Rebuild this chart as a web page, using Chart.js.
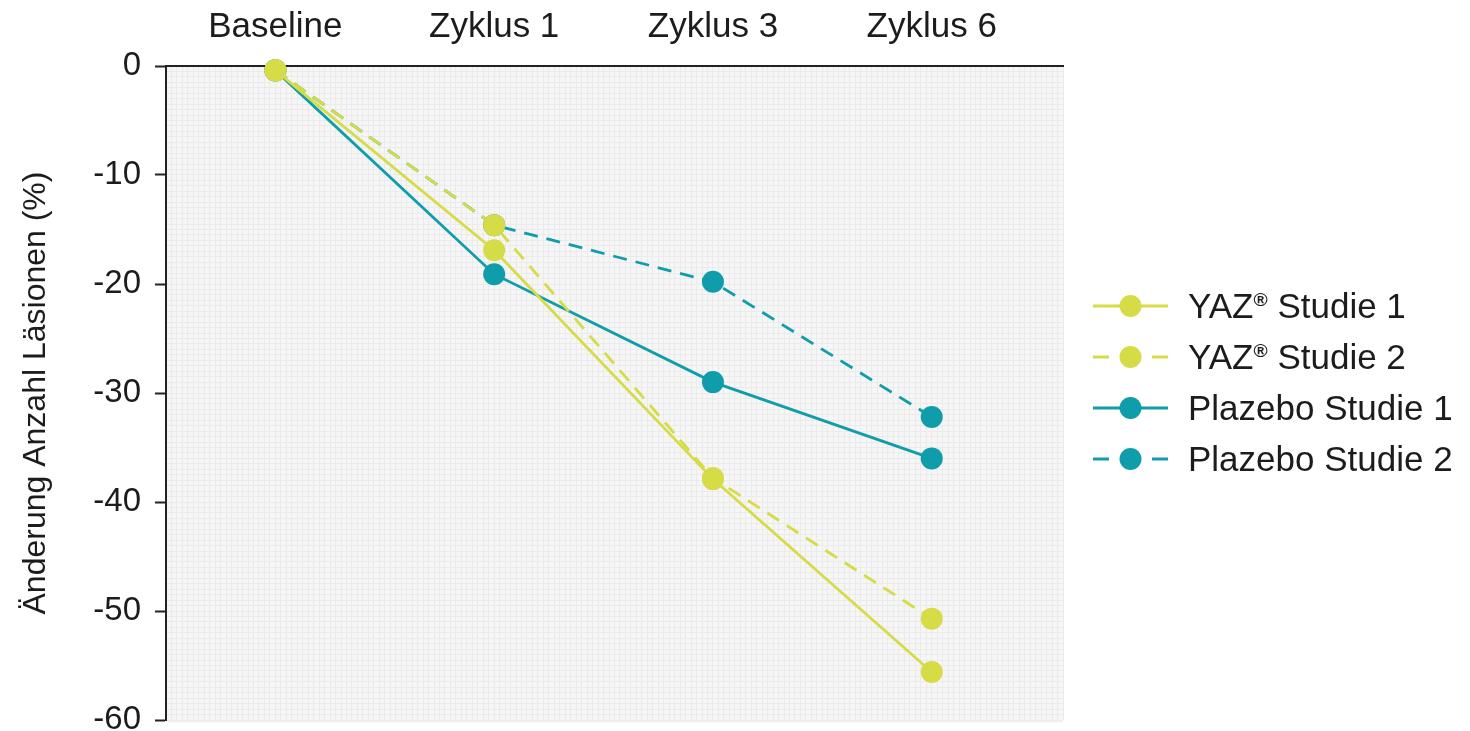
<!DOCTYPE html>
<html>
<head>
<meta charset="utf-8">
<script src="https://cdn.jsdelivr.net/npm/chart.js@4.4.1/dist/chart.umd.min.js"></script>
<style>
    html, body { margin: 0; padding: 0; background: #fff; }
    #wrap { position: relative; width: 1470px; height: 731px; }
    #legend {
        position: absolute; left: 1093px; top: 280px;
        font-family: "Liberation Sans", Arial, sans-serif; font-size: 35px; color: #1c1c1c;
    }
    .item { display: flex; align-items: center; height: 51px; white-space: nowrap; }
    .item svg { margin-right: 20px; flex: none; }
    .reg { font-size: 0.55em; vertical-align: 0.6em; font-weight: bold; }
</style>
</head>
<body>
<div id="wrap">
    <canvas id="myChart" width="1470" height="731"></canvas>
    <div id="legend"></div>
</div>
<script>
// data
const categories = ['Baseline', 'Zyklus 1', 'Zyklus 3', 'Zyklus 6'];
const yazStudie1 = [-0.4, -16.9, -37.9, -55.6];
const yazStudie2 = [-0.4, -14.6, -37.8, -50.7];
const plazeboStudie1 = [-0.4, -19.1, -29.0, -36.0];
const plazeboStudie2 = [-0.4, -14.6, -19.8, -32.2];
const seriesNames = ['YAZ® Studie 1', 'YAZ® Studie 2', 'Plazebo Studie 1', 'Plazebo Studie 2'];

const YELLOW = '#d5dc45';
const TEAL = '#109dab';
const DASH = [14, 9];
const FONT = '"Liberation Sans", Arial, sans-serif';

function toPoints(values) {
    return values.map((v, i) => ({ x: i, y: v }));
}

function makeDataset(label, values, color, dashed) {
    return {
        label: label,
        data: toPoints(values),
        borderColor: color,
        backgroundColor: color,
        pointBackgroundColor: color,
        pointBorderWidth: 0,
        pointRadius: 11,
        pointHoverRadius: 11,
        borderWidth: 2.8,
        borderDash: dashed ? DASH : [],
        clip: false,
        tension: 0
    };
}

// light plot area behind the grid
const plotBackground = {
    id: 'plotBackground',
    beforeDraw(chart) {
        const { ctx, chartArea } = chart;
        ctx.save();
        ctx.fillStyle = '#f6f6f6';
        ctx.fillRect(chartArea.left, chartArea.top, chartArea.width, chartArea.height + 3);
        ctx.restore();
    }
};

const ctx = document.getElementById('myChart');

const myChart = new Chart(ctx, {
    type: 'line',
    data: {
        datasets: [
            makeDataset(seriesNames[0], yazStudie1, YELLOW, false),
            makeDataset(seriesNames[1], yazStudie2, YELLOW, true),
            makeDataset(seriesNames[2], plazeboStudie1, TEAL, false),
            makeDataset(seriesNames[3], plazeboStudie2, TEAL, true)
        ]
    },
    plugins: [plotBackground],
    options: {
        responsive: false,
        animation: false,
        layout: { padding: { left: 0, top: 0, right: 407, bottom: 10 } },
        plugins: {
            legend: { display: false },
            tooltip: { enabled: false }
        },
        scales: {
            x: {
                type: 'linear',
                position: 'top',
                min: -0.5,
                max: 3.6,
                afterBuildTicks: (scale) => {
                    scale.ticks = categories.map((c, i) => ({ value: i }));
                },
                afterFit: (scale) => {
                    scale.height = 66;
                    scale.paddingLeft = 0;
                    scale.paddingRight = 0;
                },
                ticks: {
                    autoSkip: false,
                    maxRotation: 0,
                    padding: 18,
                    color: '#1c1c1c',
                    font: { family: FONT, size: 35 },
                    callback: (value) => categories[value] ?? ''
                },
                grid: { display: false, drawTicks: false },
                border: { display: true, color: '#222', width: 2 }
            },
            y: {
                type: 'linear',
                position: 'left',
                min: -60,
                max: 0,
                afterFit: (scale) => {
                    scale.width = 166;
                    scale.paddingTop = 0;
                    scale.paddingBottom = 0;
                },
                ticks: {
                    stepSize: 10,
                    padding: 14,
                    color: '#1c1c1c',
                    font: { family: FONT, size: 33 }
                },
                grid: {
                    drawOnChartArea: false,
                    drawTicks: true,
                    tickLength: 11,
                    tickColor: '#222',
                    tickWidth: 2
                },
                border: { display: true, color: '#222', width: 2 },
                title: {
                    display: true,
                    text: 'Änderung Anzahl Läsionen (%)',
                    color: '#1c1c1c',
                    font: { family: FONT, size: 32 },
                    padding: { top: 17, bottom: 0 }
                }
            },
            // fine background raster
            xGrid: {
                type: 'linear',
                position: 'top',
                min: -0.5,
                max: 3.6,
                afterFit: (scale) => { scale.height = 0; },
                ticks: { display: false, stepSize: 0.025, autoSkip: false },
                grid: { color: '#ebebeb', lineWidth: 1, drawTicks: false },
                border: { display: false }
            },
            yGrid: {
                type: 'linear',
                position: 'left',
                min: -60,
                max: 0,
                afterFit: (scale) => { scale.width = 0; },
                ticks: { display: false, stepSize: 0.5, autoSkip: false },
                grid: { color: '#ebebeb', lineWidth: 1, drawTicks: false },
                border: { display: false }
            }
        }
    }
});

// legend with line + marker samples
const legendEl = document.getElementById('legend');
myChart.data.datasets.forEach((ds) => {
    const dashed = ds.borderDash.length > 0;
    const item = document.createElement('div');
    item.className = 'item';
    item.innerHTML =
        `<svg width="75" height="30">` +
        `<line x1="0" y1="15" x2="75" y2="15" stroke="${ds.borderColor}" stroke-width="2.8"` +
        (dashed ? ` stroke-dasharray="16 43 16"` : '') + `/>` +
        `<circle cx="37.5" cy="15" r="11" fill="${ds.backgroundColor}"/></svg>` +
        `<span>${ds.label.replace('®', '<span class="reg">®</span>')}</span>`;
    legendEl.appendChild(item);
});
</script>
</body>
</html>
